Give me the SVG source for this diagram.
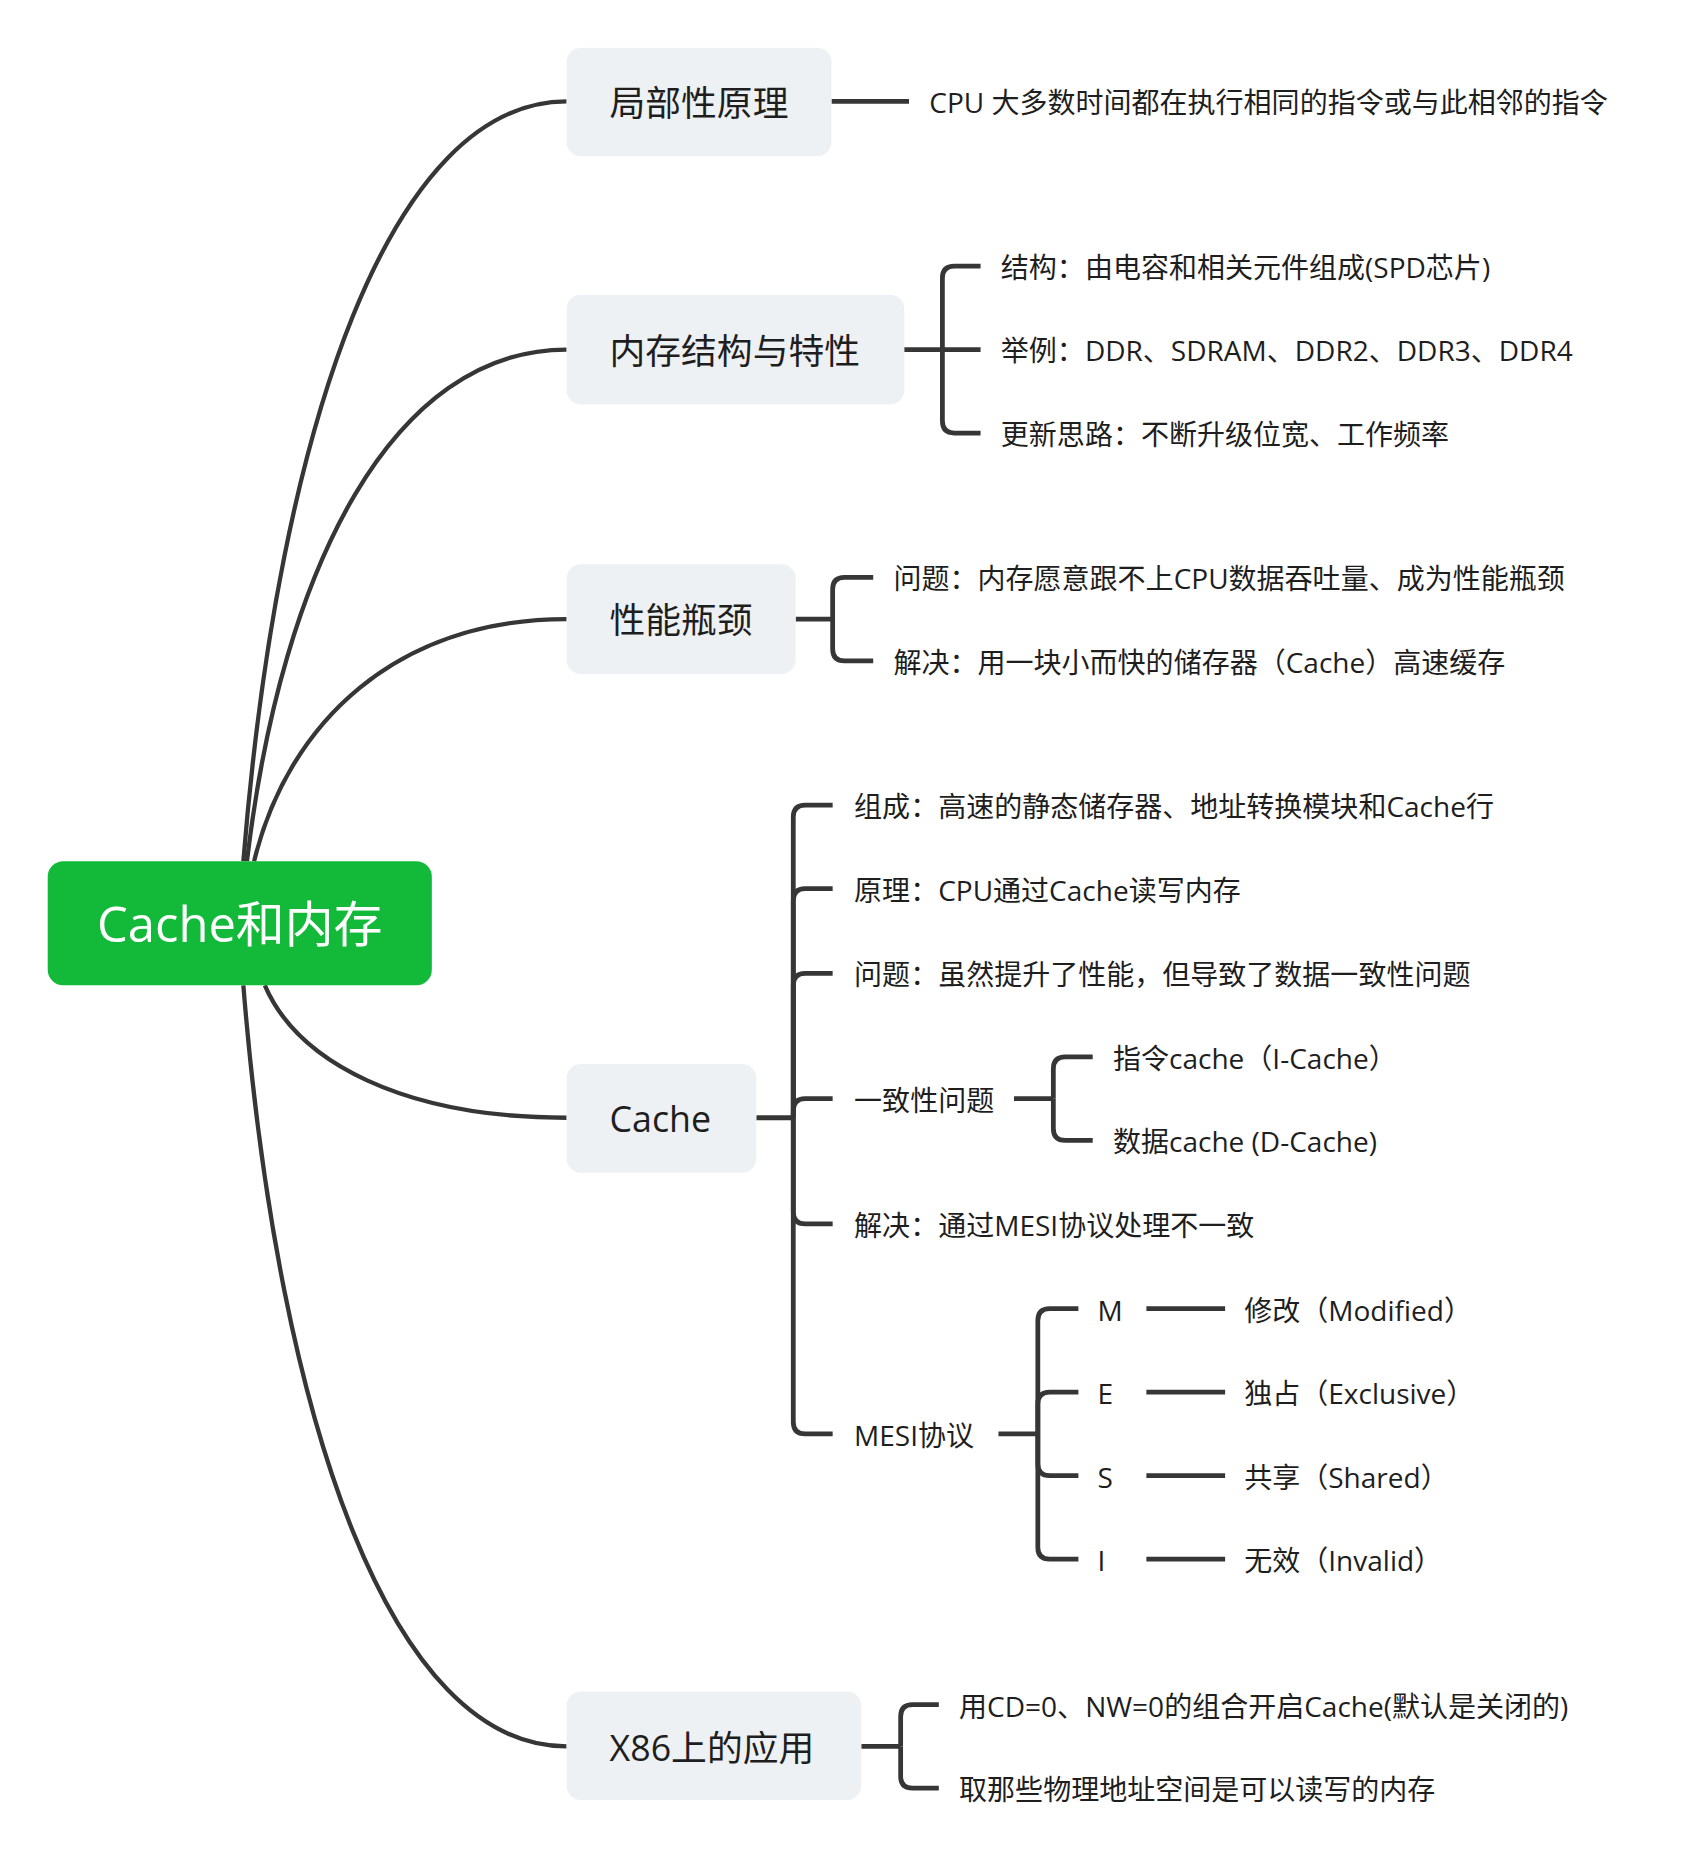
<svg xmlns="http://www.w3.org/2000/svg" width="1682" height="1872" viewBox="0 0 1682 1872">
<style>
.ln{fill:none;stroke:#363636;stroke-width:4;stroke-linecap:butt}
.cv{fill:none;stroke:#363636;stroke-width:3.6}
.box{fill:#eef1f4}
.t{font-family:"Open Sans","Noto Sans CJK SC",sans-serif;fill:#1e1e1e}
.l1{font-size:30px}
.c{font-size:23.5px}
.root{font-size:41px;fill:#ffffff}
</style>
<rect width="1682" height="1872" fill="#ffffff"/>
<g transform="scale(1.19291)">
<g id="connectors">
<path class="cv" d="M204 722 C233.8 352.5 328.7 85 475 85"/>
<path class="cv" d="M207 722 C236.5 473.2 330.3 293 475 293"/>
<path class="cv" d="M213 722 C241.8 604.3 333.5 519 475 519"/>
<path class="cv" d="M222 826 C249.8 890.4 338.4 937 475 937"/>
<path class="cv" d="M204 826 C233.8 1196 328.7 1464 475 1464"/>
<path class="ln" d="M697 85 H762"/>
<path class="ln" d="M758 293 H790"/>
<path class="ln" d="M790 293 V233 Q790 223 800 223 H822"/>
<path class="ln" d="M790 293 H822"/>
<path class="ln" d="M790 293 V353 Q790 363 800 363 H822"/>
<path class="ln" d="M667 519 H698"/>
<path class="ln" d="M698 519 V494 Q698 484 708 484 H732"/>
<path class="ln" d="M698 519 V544 Q698 554 708 554 H732"/>
<path class="ln" d="M634 937 H665"/>
<path class="ln" d="M665 937 V685 Q665 675 675 675 H698"/>
<path class="ln" d="M665 937 V755 Q665 745 675 745 H698"/>
<path class="ln" d="M665 937 V826 Q665 816 675 816 H698"/>
<path class="ln" d="M665 937 V931 Q665 921 675 921 H698"/>
<path class="ln" d="M665 937 V1016 Q665 1026 675 1026 H698"/>
<path class="ln" d="M665 937 V1192 Q665 1202 675 1202 H698"/>
<path class="ln" d="M850 921 H883"/>
<path class="ln" d="M883 921 V896 Q883 886 893 886 H916"/>
<path class="ln" d="M883 921 V946 Q883 956 893 956 H916"/>
<path class="ln" d="M837 1202 H870"/>
<path class="ln" d="M870 1202 V1107 Q870 1097 880 1097 H904"/>
<path class="ln" d="M870 1202 V1177 Q870 1167 880 1167 H904"/>
<path class="ln" d="M870 1202 V1227 Q870 1237 880 1237 H904"/>
<path class="ln" d="M870 1202 V1297 Q870 1307 880 1307 H904"/>
<path class="ln" d="M961 1097 H1027"/>
<path class="ln" d="M961 1167 H1027"/>
<path class="ln" d="M961 1237 H1027"/>
<path class="ln" d="M961 1307 H1027"/>
<path class="ln" d="M722 1464 H755"/>
<path class="ln" d="M755 1464 V1439 Q755 1429 765 1429 H787"/>
<path class="ln" d="M755 1464 V1489 Q755 1499 765 1499 H787"/>
</g>
<g id="root">
<rect x="40" y="722" width="322" height="104" rx="13" fill="#13ba39"/>
<text class="t root" x="201" y="790" text-anchor="middle">Cache和内存</text>
</g>
<g id="n1">
<rect class="box" x="475" y="40" width="222" height="91" rx="12"/>
<text class="t l1" x="511" y="97">局部性原理</text>
</g>
<g id="n1a"><text class="t c" x="779" y="95">CPU 大多数时间都在执行相同的指令或与此相邻的指令</text></g>
<g id="n2">
<rect class="box" x="475" y="247" width="283" height="92" rx="12"/>
<text class="t l1" x="511" y="305">内存结构与特性</text>
</g>
<g id="n2a"><text class="t c" x="839" y="233">结构：由电容和相关元件组成(SPD芯片)</text></g>
<g id="n2b"><text class="t c" x="839" y="303">举例：DDR、SDRAM、DDR2、DDR3、DDR4</text></g>
<g id="n2c"><text class="t c" x="839" y="373">更新思路：不断升级位宽、工作频率</text></g>
<g id="n3">
<rect class="box" x="475" y="473" width="192" height="92" rx="12"/>
<text class="t l1" x="511" y="531">性能瓶颈</text>
</g>
<g id="n3a"><text class="t c" x="749" y="494">问题：内存愿意跟不上CPU数据吞吐量、成为性能瓶颈</text></g>
<g id="n3b"><text class="t c" x="749" y="564">解决：用一块小而快的储存器（Cache）高速缓存</text></g>
<g id="n4">
<rect class="box" x="475" y="892" width="159" height="91" rx="12"/>
<text class="t l1" x="511" y="949">Cache</text>
</g>
<g id="n4a"><text class="t c" x="716" y="685">组成：高速的静态储存器、地址转换模块和Cache行</text></g>
<g id="n4b"><text class="t c" x="716" y="755">原理：CPU通过Cache读写内存</text></g>
<g id="n4c"><text class="t c" x="716" y="826">问题：虽然提升了性能，但导致了数据一致性问题</text></g>
<g id="n4d"><text class="t c" x="716" y="931">一致性问题</text></g>
<g id="n4d1"><text class="t c" x="933" y="896">指令cache（I-Cache）</text></g>
<g id="n4d2"><text class="t c" x="933" y="966">数据cache (D-Cache)</text></g>
<g id="n4e"><text class="t c" x="716" y="1036">解决：通过MESI协议处理不一致</text></g>
<g id="n4f"><text class="t c" x="716" y="1212">MESI协议</text></g>
<g id="m"><text class="t c" x="920" y="1107">M</text></g>
<g id="e"><text class="t c" x="920" y="1177">E</text></g>
<g id="s"><text class="t c" x="920" y="1247">S</text></g>
<g id="i"><text class="t c" x="920" y="1317">I</text></g>
<g id="m1"><text class="t c" x="1043" y="1107">修改（Modified）</text></g>
<g id="e1"><text class="t c" x="1043" y="1177">独占（Exclusive）</text></g>
<g id="s1"><text class="t c" x="1043" y="1247">共享（Shared）</text></g>
<g id="i1"><text class="t c" x="1043" y="1317">无效（Invalid）</text></g>
<g id="n5">
<rect class="box" x="475" y="1418" width="247" height="91" rx="12"/>
<text class="t l1" x="511" y="1476">X86上的应用</text>
</g>
<g id="n5a"><text class="t c" x="804" y="1439">用CD=0、NW=0的组合开启Cache(默认是关闭的)</text></g>
<g id="n5b"><text class="t c" x="804" y="1509">取那些物理地址空间是可以读写的内存</text></g>
</g>
</svg>
